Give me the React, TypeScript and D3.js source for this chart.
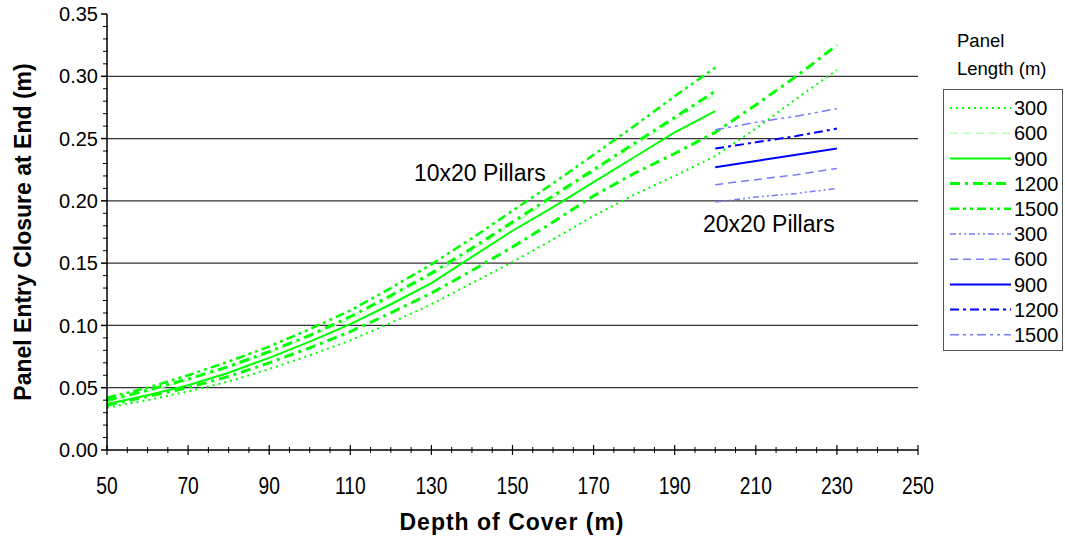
import React from 'react';
import * as d3 from 'd3';

// depth of cover (m)
const depth10 = [50, 60, 70, 80, 90, 100, 110, 120, 130, 140, 150, 160, 170, 180, 190, 200];
const depth10Long = [50, 60, 70, 80, 90, 100, 110, 120, 130, 140, 150, 160, 170, 180, 190, 200, 210, 220, 230];
const depth20 = [200, 210, 220, 230];

// 10x20 pillars
const g300 = [0.034, 0.040, 0.047, 0.055, 0.065, 0.076, 0.088, 0.102, 0.117, 0.134, 0.151, 0.169, 0.188, 0.205, 0.220, 0.236, 0.258, 0.282, 0.305];
const g600 = [0.039, 0.047, 0.056, 0.066, 0.078, 0.091, 0.105, 0.122, 0.140, 0.160, 0.181, 0.202, 0.223, 0.244, 0.265, 0.285];
const g900 = [0.037, 0.044, 0.052, 0.062, 0.074, 0.087, 0.101, 0.117, 0.134, 0.155, 0.176, 0.195, 0.215, 0.235, 0.255, 0.272];
const g1200 = [0.040, 0.048, 0.057, 0.067, 0.079, 0.092, 0.107, 0.124, 0.142, 0.162, 0.183, 0.204, 0.225, 0.246, 0.267, 0.288];
const g1500 = [0.042, 0.050, 0.060, 0.071, 0.083, 0.097, 0.112, 0.130, 0.149, 0.170, 0.192, 0.214, 0.237, 0.260, 0.284, 0.307];
const gExtra = [0.036, 0.043, 0.050, 0.059, 0.070, 0.082, 0.095, 0.110, 0.126, 0.144, 0.163, 0.183, 0.204, 0.222, 0.238, 0.255, 0.277, 0.300, 0.325];

// 20x20 pillars
const b300 = [0.199, 0.203, 0.206, 0.210];
const b600 = [0.213, 0.217, 0.221, 0.226];
const b900 = [0.227, 0.232, 0.237, 0.242];
const b1200 = [0.242, 0.247, 0.252, 0.258];
const b1500 = [0.257, 0.263, 0.268, 0.274];

const xTicks = [50, 70, 90, 110, 130, 150, 170, 190, 210, 230, 250];
const yTicks = [0, 0.05, 0.1, 0.15, 0.2, 0.25, 0.3, 0.35];
const legendLabels = ['300', '600', '900', '1200', '1500', '300', '600', '900', '1200', '1500'];

const GREEN = '#00ff00';
const PALE_GREEN = '#b8ffb8';
const BLUE = '#0000ff';
const PALE_BLUE = '#7a7aff';

const styles = {
  s300: { dash: '2,4', w: 2 },
  s600: { dash: '8,5', w: 1.5 },
  s900: { dash: null, w: 2 },
  s1200: { dash: '10,5,3,5', w: 3 },
  s1500: { dash: '9,4,3,4,3,4', w: 2.5 },
};

const series = [
  { xs: depth10Long, ys: g300, color: GREEN, st: styles.s300, legend: 0 },
  { xs: depth10, ys: g600, color: PALE_GREEN, st: styles.s600, legend: 1 },
  { xs: depth10, ys: g900, color: GREEN, st: styles.s900, legend: 2 },
  { xs: depth10, ys: g1200, color: GREEN, st: styles.s1200, legend: 3 },
  { xs: depth10, ys: g1500, color: GREEN, st: styles.s1500, legend: 4 },
  { xs: depth10Long, ys: gExtra, color: GREEN, st: styles.s1200, legend: -1 },
  { xs: depth20, ys: b300, color: PALE_BLUE, st: { dash: '6,3,2,3,2,3', w: 1.5 }, legend: 5 },
  { xs: depth20, ys: b600, color: PALE_BLUE, st: styles.s600, legend: 6 },
  { xs: depth20, ys: b900, color: BLUE, st: styles.s900, legend: 7 },
  { xs: depth20, ys: b1200, color: BLUE, st: { dash: '9,4,3,4', w: 2 }, legend: 8 },
  { xs: depth20, ys: b1500, color: PALE_BLUE, st: { dash: '9,4,3,4,3,4', w: 1.5 }, legend: 9 },
];

const W = 1065;
const H = 539;
const margin = { left: 107, right: 147, top: 14, bottom: 89 };

export default function App() {
  const x = d3.scaleLinear().domain([50, 250]).range([margin.left, W - margin.right]);
  const y = d3.scaleLinear().domain([0, 0.35]).range([H - margin.bottom, margin.top]);
  const line = d3.line<[number, number]>().x(d => x(d[0])).y(d => y(d[1]));

  const xMinor = d3.range(50, 251, 5).filter(v => (v - 50) % 20 !== 0);
  const yMinor = d3.range(0, 0.351, 0.01).filter((v, i) => i % 5 !== 0);
  const font = 'Liberation Sans, Arial, sans-serif';

  const legendSeries = legendLabels.map((lab, i) => series.find(s => s.legend === i)!);

  return (
    <svg width={W} height={H} style={{ position: 'absolute', left: 0, top: 0, background: '#fff' }} fontFamily={font}>
      {/* gridlines */}
      {yTicks.slice(1, -1).map(t => (
        <line key={t} x1={x(50)} x2={x(250)} y1={y(t)} y2={y(t)} stroke="#333" strokeWidth={1.2} />
      ))}
      {/* series */}
      {series.map((s, i) => (
        <path key={i} d={line(s.xs.map((v, j) => [v, s.ys[j]]))!} fill="none" stroke={s.color}
          strokeWidth={s.st.w} strokeDasharray={s.st.dash ?? undefined} />
      ))}
      {/* axes */}
      <line x1={x(50)} x2={x(50)} y1={y(0.35)} y2={y(0)} stroke="#000" strokeWidth={1.5} />
      <line x1={x(50)} x2={x(250)} y1={y(0)} y2={y(0)} stroke="#000" strokeWidth={1.5} />
      {yTicks.map(t => (
        <g key={t}>
          <line x1={x(50) - 6} x2={x(50)} y1={y(t)} y2={y(t)} stroke="#000" strokeWidth={1.5} />
          <text x={x(50) - 9} y={y(t)} dy="0.36em" textAnchor="end" fontSize={20}>{t.toFixed(2)}</text>
        </g>
      ))}
      {yMinor.map(t => (
        <line key={t} x1={x(50) - 4} x2={x(50) + 1} y1={y(t)} y2={y(t)} stroke="#000" strokeWidth={1} />
      ))}
      {xTicks.map(t => (
        <g key={t}>
          <line x1={x(t)} x2={x(t)} y1={y(0) - 5} y2={y(0) + 5} stroke="#000" strokeWidth={1.2} />
          <text transform={`translate(${x(t)},${y(0) + 44}) scale(0.8,1)`} textAnchor="middle" fontSize={24}>{t}</text>
        </g>
      ))}
      {xMinor.map(t => (
        <line key={t} x1={x(t)} x2={x(t)} y1={y(0) - 3} y2={y(0) + 3} stroke="#000" strokeWidth={1} />
      ))}
      {/* axis titles */}
      <text x={512} y={530} textAnchor="middle" fontSize={23} fontWeight="bold" letterSpacing={1}>Depth of Cover (m)</text>
      <text transform={`translate(31,${(y(0) + y(0.35)) / 2}) rotate(-90)`} textAnchor="middle" fontSize={23}
        fontWeight="bold">Panel Entry Closure at End (m)</text>
      {/* annotations */}
      <text x={414} y={181} fontSize={23}>10x20 Pillars</text>
      <text x={703} y={232} fontSize={23}>20x20 Pillars</text>
      {/* legend */}
      <text x={957} y={47} fontSize={18.5}>Panel</text>
      <text x={957} y={75} fontSize={18.5}>Length (m)</text>
      <rect x={943.5} y={89.5} width={119} height={261} fill="#fff" stroke="#555" strokeWidth={1} />
      {legendSeries.map((s, i) => {
        const ly = 108 + i * 25.2;
        return (
          <g key={i}>
            <line x1={950} x2={1011} y1={ly} y2={ly} stroke={s.color} strokeWidth={s.st.w}
              strokeDasharray={s.st.dash ?? undefined} />
            <text x={1014} y={ly} dy="0.36em" fontSize={20}>{legendLabels[i]}</text>
          </g>
        );
      })}
    </svg>
  );
}
